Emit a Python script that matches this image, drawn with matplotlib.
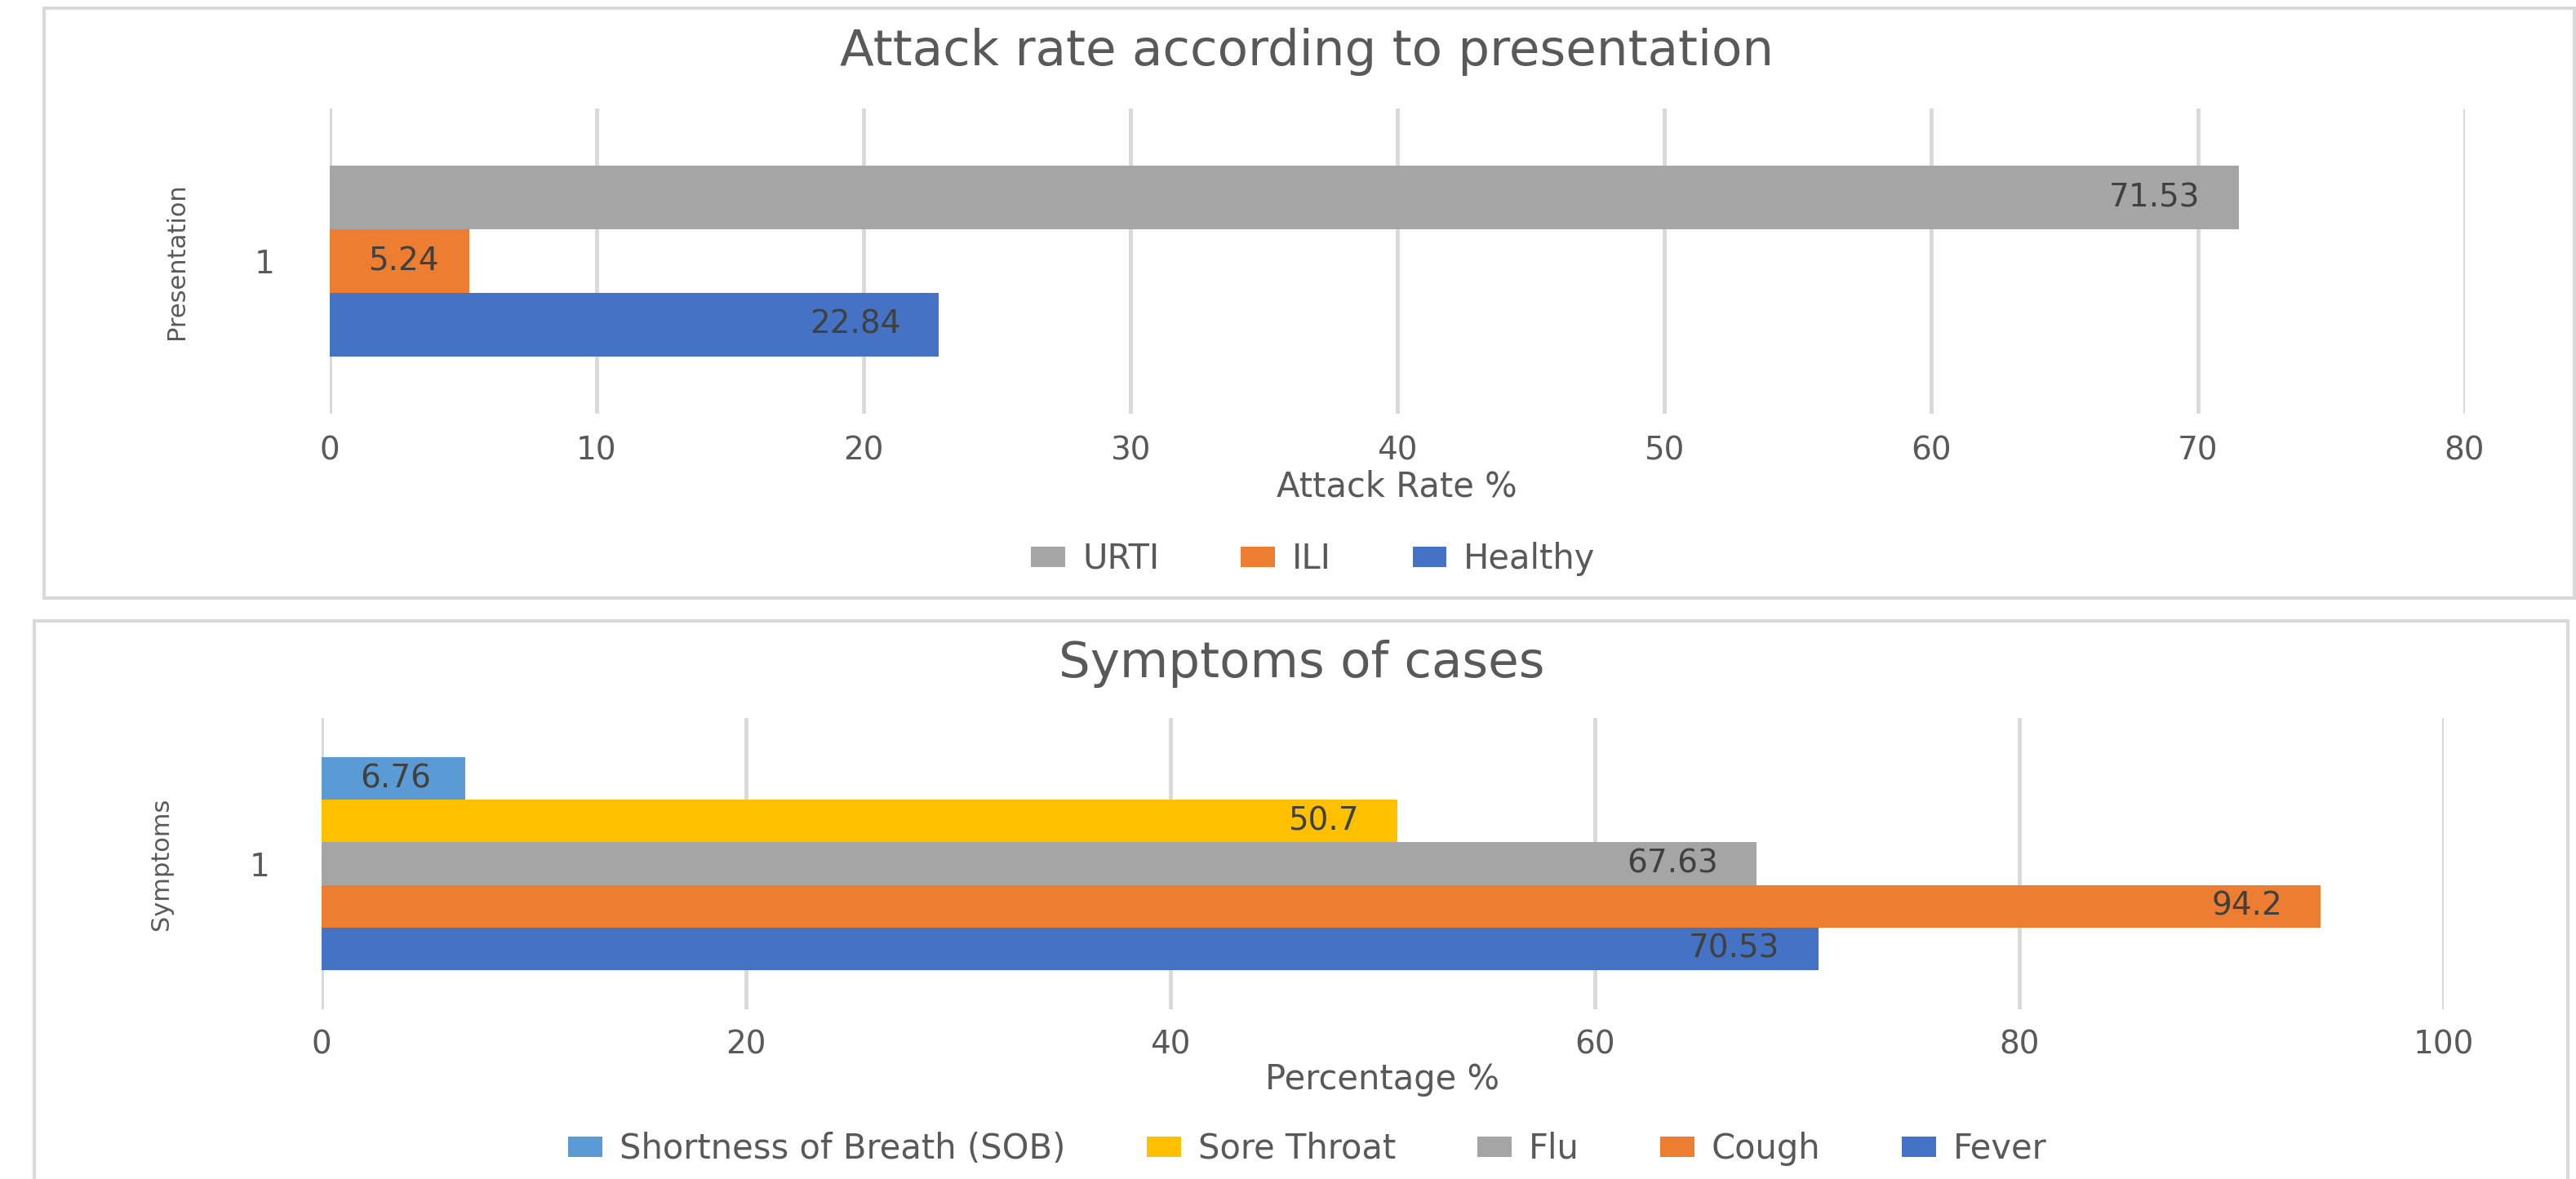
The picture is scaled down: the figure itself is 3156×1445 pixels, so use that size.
import matplotlib
matplotlib.use("Agg")
import matplotlib.pyplot as plt
from matplotlib.patches import Rectangle

plt.rcParams['font.family'] = ['DejaVu Sans']

W, H = 3156, 1445

# top chart data (bottom-to-top order as drawn by Excel)
pres_names = ['Healthy', 'ILI', 'URTI']
pres_values = [22.84, 5.24, 71.53]
pres_colors = ['#4472C4', '#ED7D31', '#A5A5A5']
pres_ticks = [0, 10, 20, 30, 40, 50, 60, 70, 80]

# bottom chart data
symp_names = ['Fever', 'Cough', 'Flu', 'Sore Throat', 'Shortness of Breath (SOB)']
symp_values = [70.53, 94.2, 67.63, 50.7, 6.76]
symp_colors = ['#4472C4', '#ED7D31', '#A5A5A5', '#FFC000', '#5B9BD5']
symp_ticks = [0, 20, 40, 60, 80, 100]

category = ['1']

grid_c = '#D9D9D9'
text_c = '#595959'
lab_c = '#404040'


def px_axes(fig, x0, y0, x1, y1):
    # pixel box (from top-left) -> figure fraction axes
    return fig.add_axes([x0 / W, 1 - y1 / H, (x1 - x0) / W, (y1 - y0) / H])


def draw_bars(ax, names, values, colors, bar_h, ticks, xlab, ylab, xlab_y, ylab_x, tickpad, ytickpad):
    n = len(values)
    for i, (nm, v, c) in enumerate(zip(names, values, colors)):
        y = (i - (n - 1) / 2) * bar_h
        ax.barh(y, v, height=bar_h, color=c, label=nm, zorder=2)
        if v < 10:
            ax.annotate(f'{v:g}', (0, y), xytext=(34, 0), textcoords='offset points',
                        ha='left', va='center', fontsize=28, color=lab_c, zorder=3)
        else:
            ax.annotate(f'{v:g}', (v, y), xytext=(-34, 0), textcoords='offset points',
                        ha='right', va='center', fontsize=28, color=lab_c, zorder=3)
    ax.set_xlim(ticks[0], ticks[-1])
    ax.set_ylim(-0.5, 0.5)
    ax.set_xticks(ticks)
    ax.set_yticks([0])
    ax.set_yticklabels(category)
    ax.tick_params(axis='x', length=0, pad=tickpad, labelsize=28, labelcolor=text_c)
    ax.tick_params(axis='y', length=0, pad=ytickpad, labelsize=28, labelcolor=text_c)
    ax.grid(axis='x', color=grid_c, lw=3.5, zorder=0)
    ax.set_axisbelow(True)
    for s in ax.spines.values():
        s.set_visible(False)
    ax.set_xlabel(xlab, fontsize=30, color=text_c, va='center')
    ax.xaxis.set_label_coords(0.5, xlab_y)
    ax.set_ylabel(ylab, fontsize=22, color=text_c, va='center', ha='center')
    ax.yaxis.set_label_coords(ylab_x, 0.5)


fig = plt.figure(figsize=(W / 100, H / 100), dpi=100)

# panel frames
fig.patches.append(Rectangle((54 / W, 1 - 733 / H), 3100 / W, 723 / H, transform=fig.transFigure,
                             fill=False, edgecolor=grid_c, lw=3))
fig.patches.append(Rectangle((42 / W, 1 - 1480 / H), 3104 / W, 719 / H, transform=fig.transFigure,
                             fill=False, edgecolor=grid_c, lw=3))

# top chart
ax1 = px_axes(fig, 403.6, 133, 3019.6, 507)
draw_bars(ax1, pres_names, pres_values, pres_colors, 0.2078, pres_ticks,
          'Attack Rate %', 'Presentation', -89 / 374, (217 - 403.6) / 2616, 19, 48)
fig.text(1601 / W, 1 - 80 / H, 'Attack rate according to presentation', ha='center',
         va='baseline', fontsize=44, color=text_c)
h1, l1 = ax1.get_legend_handles_labels()
fig.legend(h1[::-1], l1[::-1], loc='center', bbox_to_anchor=(1609 / W, 1 - 685 / H), ncol=3,
           frameon=False, fontsize=30, labelcolor=text_c, handlelength=1.0, handleheight=0.55,
           handletextpad=0.5, columnspacing=2.4)

# bottom chart
ax2 = px_axes(fig, 394, 880, 2994, 1237)
draw_bars(ax2, symp_names, symp_values, symp_colors, 0.1462, symp_ticks,
          'Percentage %', 'Symptoms', -86 / 357, (197 - 394) / 2600, 18, 46)
fig.text(1595 / W, 1 - 830 / H, 'Symptoms of cases', ha='center', va='baseline',
         fontsize=44, color=text_c)
h2, l2 = ax2.get_legend_handles_labels()
fig.legend(h2[::-1], l2[::-1], loc='center', bbox_to_anchor=(1602 / W, 1 - 1408 / H), ncol=5,
           frameon=False, fontsize=30, labelcolor=text_c, handlelength=1.0, handleheight=0.55,
           handletextpad=0.5, columnspacing=2.4)

fig.savefig('out.png', dpi=100)
